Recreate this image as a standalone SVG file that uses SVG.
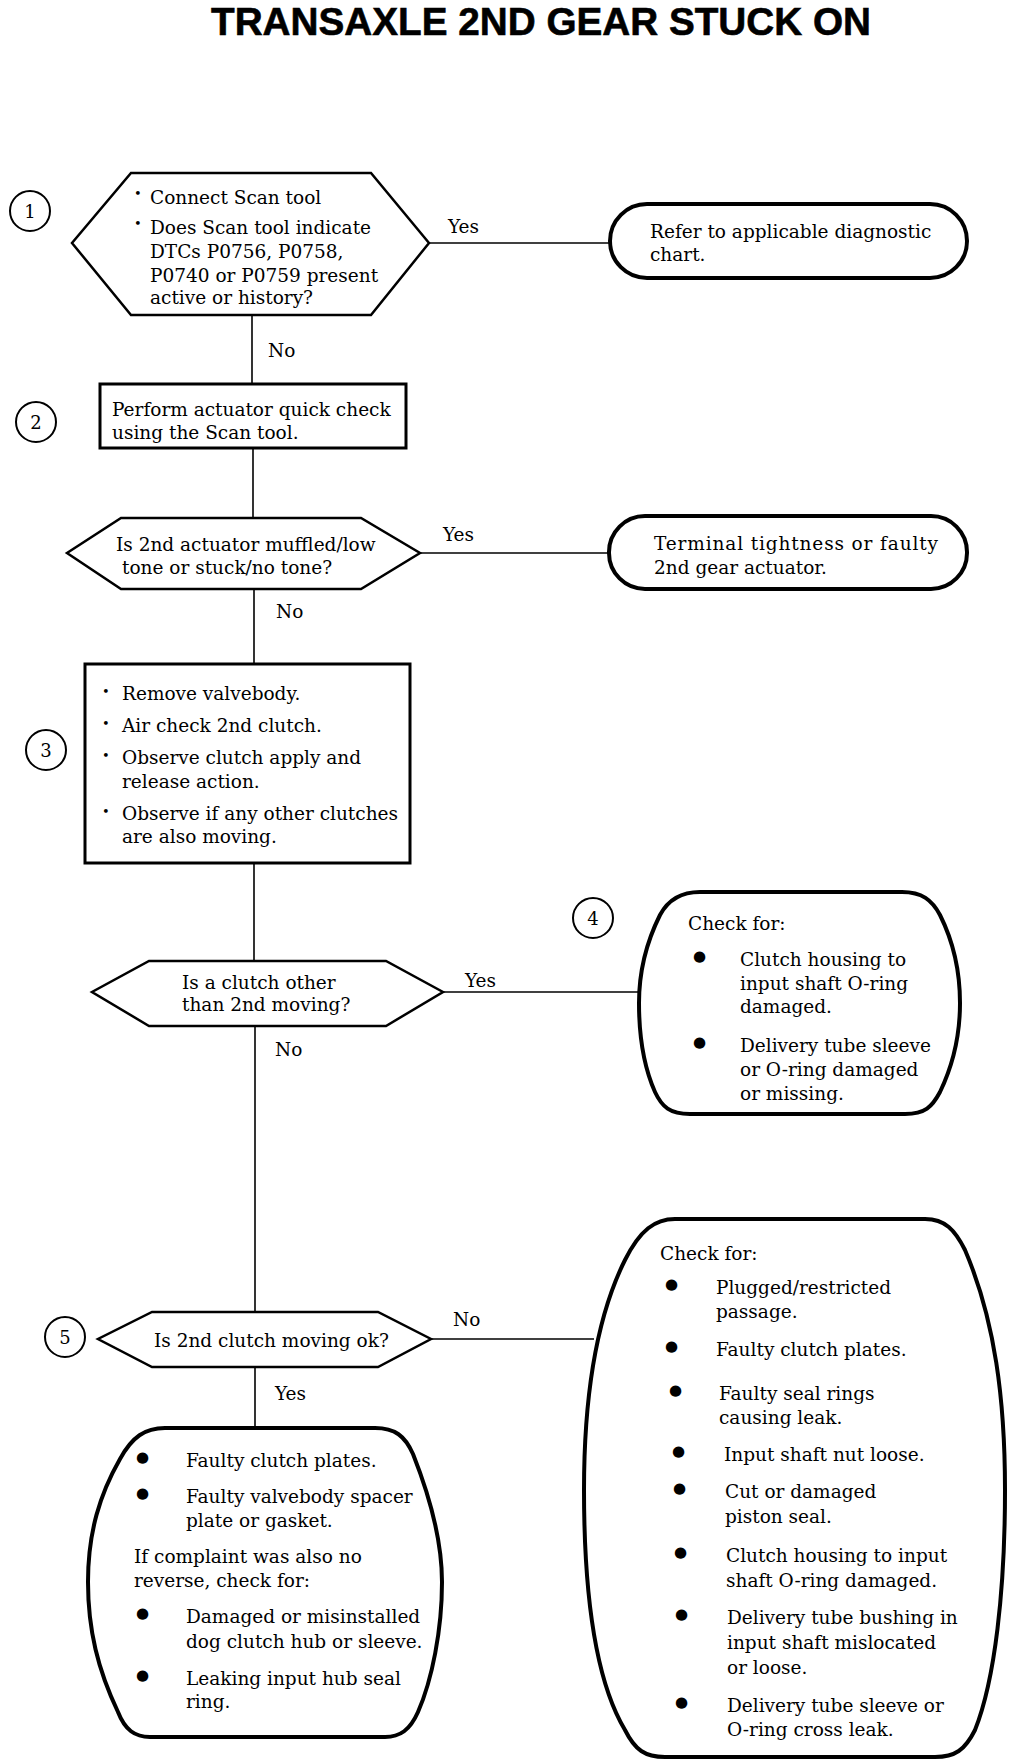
<svg xmlns="http://www.w3.org/2000/svg" width="1024" height="1764" viewBox="0 0 1024 1764">
<style>
  .t { font-family: "DejaVu Serif", "Liberation Serif", serif; font-size: 18.5px; fill: #000; }
  .lbl { font-family: "DejaVu Serif", "Liberation Serif", serif; font-size: 18.5px; fill: #000; }
  .num { font-family: "DejaVu Serif", "Liberation Serif", serif; font-size: 18px; fill: #000; text-anchor: middle; }
  .sb { font-family: "DejaVu Serif", serif; font-size: 13px; fill: #000; }
  .bb { font-family: "DejaVu Sans", sans-serif; font-size: 15px; fill: #000; }
  .thin { fill: #fff; stroke: #000; stroke-width: 2.5; stroke-linejoin: miter; }
  .thick { fill: #fff; stroke: #000; stroke-width: 4; stroke-linejoin: round; }
  .circ { fill: #fff; stroke: #000; stroke-width: 2; }
  .conn { stroke: #000; stroke-width: 1.6; fill: none; }
</style>
<rect width="1024" height="1764" fill="#fff"/>
<text x="541" y="35" text-anchor="middle" font-family="Liberation Sans, Arial, sans-serif" font-weight="bold" font-size="39" stroke="#000" stroke-width="0.6" textLength="660" lengthAdjust="spacingAndGlyphs">TRANSAXLE 2ND GEAR STUCK ON</text>

<g id="connectors">
  <line class="conn" x1="429" y1="243" x2="611" y2="243"/>
  <line class="conn" x1="252" y1="315" x2="252" y2="384"/>
  <line class="conn" x1="253" y1="448" x2="253" y2="518"/>
  <line class="conn" x1="420" y1="553" x2="610" y2="553"/>
  <line class="conn" x1="254" y1="589" x2="254" y2="664"/>
  <line class="conn" x1="254" y1="863" x2="254" y2="961"/>
  <line class="conn" x1="443" y1="992" x2="641" y2="992"/>
  <line class="conn" x1="255" y1="1026" x2="255" y2="1312"/>
  <line class="conn" x1="431" y1="1339" x2="594" y2="1339"/>
  <line class="conn" x1="255" y1="1367" x2="255" y2="1427"/>
  <text class="lbl" x="448" y="233">Yes</text>
  <text class="lbl" x="268" y="357">No</text>
  <text class="lbl" x="443" y="541">Yes</text>
  <text class="lbl" x="276" y="618">No</text>
  <text class="lbl" x="465" y="987">Yes</text>
  <text class="lbl" x="275" y="1056">No</text>
  <text class="lbl" x="453" y="1326">No</text>
  <text class="lbl" x="275" y="1400">Yes</text>
</g>

<g id="step1">
  <circle class="circ" cx="30" cy="211" r="20"/>
  <text class="num" x="30" y="218">1</text>
  <polygon class="thin" points="131,173 371,173 429,243 371,315 131,315 72,243"/>
  <text class="sb" x="134" y="198">•</text>
  <text class="t" x="150" y="204">Connect Scan tool</text>
  <text class="sb" x="134" y="228">•</text>
  <text class="t" x="150" y="234">Does Scan tool indicate</text>
  <text class="t" x="150" y="258">DTCs P0756, P0758,</text>
  <text class="t" x="150" y="282">P0740 or P0759 present</text>
  <text class="t" x="150" y="304">active or history?</text>
</g>

<g id="refer">
  <rect class="thick" x="610" y="204" width="357" height="74" rx="37" ry="37"/>
  <text class="t" x="650" y="238">Refer to applicable diagnostic</text>
  <text class="t" x="650" y="261">chart.</text>
</g>

<g id="step2">
  <circle class="circ" cx="36" cy="422" r="20"/>
  <text class="num" x="36" y="429">2</text>
  <rect x="100" y="384" width="306" height="64" fill="#fff" stroke="#000" stroke-width="3"/>
  <text class="t" x="112" y="416">Perform actuator quick check</text>
  <text class="t" x="112" y="439">using the Scan tool.</text>
</g>

<g id="decision2">
  <polygon class="thin" points="121,518 361,518 420,553 361,589 121,589 67,553"/>
  <text class="t" x="116" y="551">Is 2nd actuator muffled/low</text>
  <text class="t" x="122" y="574">tone or stuck/no tone?</text>
</g>

<g id="terminal">
  <rect class="thick" x="609" y="516" width="358" height="73" rx="36" ry="36"/>
  <text class="t" x="654" y="550" textLength="284" lengthAdjust="spacing">Terminal tightness or faulty</text>
  <text class="t" x="654" y="574">2nd gear actuator.</text>
</g>

<g id="step3">
  <circle class="circ" cx="46" cy="750" r="20"/>
  <text class="num" x="46" y="757">3</text>
  <rect x="85" y="664" width="325" height="199" fill="#fff" stroke="#000" stroke-width="3"/>
  <text class="sb" x="102" y="696">•</text>
  <text class="t" x="122" y="700">Remove valvebody.</text>
  <text class="sb" x="102" y="728">•</text>
  <text class="t" x="122" y="732">Air check 2nd clutch.</text>
  <text class="sb" x="102" y="760">•</text>
  <text class="t" x="122" y="764">Observe clutch apply and</text>
  <text class="t" x="122" y="788">release action.</text>
  <text class="sb" x="102" y="816">•</text>
  <text class="t" x="122" y="820">Observe if any other clutches</text>
  <text class="t" x="122" y="843">are also moving.</text>
</g>

<g id="decision3">
  <polygon class="thin" points="149,961 386,961 443,992 386,1026 149,1026 92,992"/>
  <text class="t" x="182" y="989">Is a clutch other</text>
  <text class="t" x="182" y="1011">than 2nd moving?</text>
</g>

<g id="step4">
  <circle class="circ" cx="593" cy="918" r="20"/>
  <text class="num" x="593" y="925">4</text>
  <path class="thick" d="M 700,892 L 902,892 C 922,892 932,900 940,915 C 955,945 960,975 960,1003 C 960,1035 953,1065 940,1092 C 932,1107 925,1114 905,1114 L 690,1114 C 670,1114 662,1107 655,1092 C 643,1065 639,1035 639,1003 C 639,975 645,945 660,915 C 668,900 680,892 700,892 Z"/>
  <text class="t" x="688" y="930">Check for:</text>
  <text class="bb" x="693" y="961">●</text>
  <text class="t" x="740" y="966">Clutch housing to</text>
  <text class="t" x="740" y="990">input shaft O-ring</text>
  <text class="t" x="740" y="1013">damaged.</text>
  <text class="bb" x="693" y="1047">●</text>
  <text class="t" x="740" y="1052">Delivery tube sleeve</text>
  <text class="t" x="740" y="1076">or O-ring damaged</text>
  <text class="t" x="740" y="1100">or missing.</text>
</g>

<g id="step5">
  <circle class="circ" cx="65" cy="1337" r="20"/>
  <text class="num" x="65" y="1344">5</text>
  <polygon class="thin" points="152,1312 378,1312 431,1339 378,1367 152,1367 98,1339"/>
  <text class="t" x="154" y="1347">Is 2nd clutch moving ok?</text>
</g>

<g id="yes-result">
  <path class="thick" d="M 165,1428 L 375,1428 C 395,1428 405,1436 413,1454 C 432,1502 442,1542 442,1582 C 442,1630 432,1680 418,1712 C 410,1730 400,1737 385,1737 L 150,1737 C 135,1737 125,1730 118,1712 C 98,1670 88,1630 88,1582 C 88,1532 100,1494 120,1459 C 132,1437 145,1428 165,1428 Z"/>
  <text class="bb" x="136" y="1462">●</text>
  <text class="t" x="186" y="1467">Faulty clutch plates.</text>
  <text class="bb" x="136" y="1498">●</text>
  <text class="t" x="186" y="1503">Faulty valvebody spacer</text>
  <text class="t" x="186" y="1527">plate or gasket.</text>
  <text class="t" x="134" y="1563">If complaint was also no</text>
  <text class="t" x="134" y="1587">reverse, check for:</text>
  <text class="bb" x="136" y="1618">●</text>
  <text class="t" x="186" y="1623">Damaged or misinstalled</text>
  <text class="t" x="186" y="1648">dog clutch hub or sleeve.</text>
  <text class="bb" x="136" y="1680">●</text>
  <text class="t" x="186" y="1685">Leaking input hub seal</text>
  <text class="t" x="186" y="1708">ring.</text>
</g>

<g id="no-result">
  <path class="thick" d="M 675,1219 L 925,1219 C 945,1219 955,1230 965,1250 C 995,1320 1005,1400 1005,1490 C 1005,1590 995,1680 975,1730 C 965,1750 955,1757 935,1757 L 665,1757 C 645,1757 635,1750 625,1730 C 595,1680 584,1590 584,1490 C 584,1400 595,1320 625,1260 C 640,1230 655,1219 675,1219 Z"/>
  <text class="t" x="660" y="1260">Check for:</text>
  <text class="bb" x="665" y="1289">●</text>
  <text class="t" x="716" y="1294">Plugged/restricted</text>
  <text class="t" x="716" y="1318">passage.</text>
  <text class="bb" x="665" y="1351">●</text>
  <text class="t" x="716" y="1356">Faulty clutch plates.</text>
  <text class="bb" x="669" y="1395">●</text>
  <text class="t" x="719" y="1400">Faulty seal rings</text>
  <text class="t" x="719" y="1424">causing leak.</text>
  <text class="bb" x="672" y="1456">●</text>
  <text class="t" x="724" y="1461">Input shaft nut loose.</text>
  <text class="bb" x="673" y="1493">●</text>
  <text class="t" x="725" y="1498">Cut or damaged</text>
  <text class="t" x="725" y="1523">piston seal.</text>
  <text class="bb" x="674" y="1557">●</text>
  <text class="t" x="726" y="1562">Clutch housing to input</text>
  <text class="t" x="726" y="1587">shaft O-ring damaged.</text>
  <text class="bb" x="675" y="1619">●</text>
  <text class="t" x="727" y="1624">Delivery tube bushing in</text>
  <text class="t" x="727" y="1649">input shaft mislocated</text>
  <text class="t" x="727" y="1674">or loose.</text>
  <text class="bb" x="675" y="1707">●</text>
  <text class="t" x="727" y="1712">Delivery tube sleeve or</text>
  <text class="t" x="727" y="1736">O-ring cross leak.</text>
</g>
</svg>
